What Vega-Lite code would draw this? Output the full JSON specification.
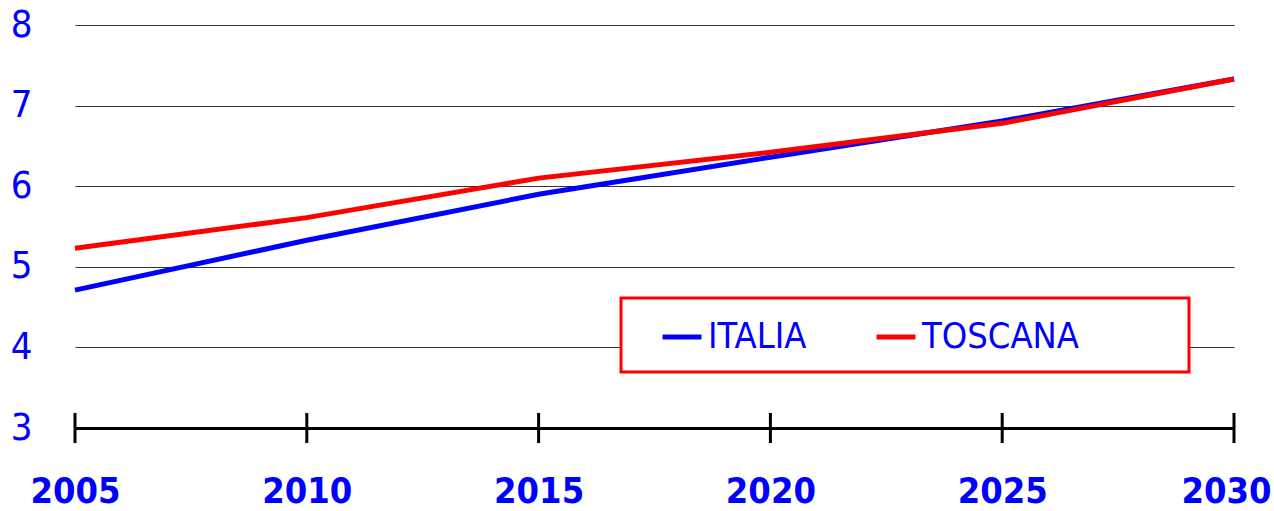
{
  "$schema": "https://vega.github.io/schema/vega-lite/v6.json",
  "width": 1159,
  "height": 403,
  "autosize": {"type": "none"},
  "padding": {"left": 75, "top": 25, "right": 40, "bottom": 83},
  "background": "white",
  "config": {"view": {"stroke": null}, "font": "DejaVu Sans Condensed, Liberation Sans Narrow, sans-serif"},
  "datasets": {
    "serie": [
      {"anno": 2005, "area": "ITALIA", "valore": 4.71},
      {"anno": 2010, "area": "ITALIA", "valore": 5.33},
      {"anno": 2015, "area": "ITALIA", "valore": 5.9},
      {"anno": 2020, "area": "ITALIA", "valore": 6.36},
      {"anno": 2025, "area": "ITALIA", "valore": 6.81},
      {"anno": 2030, "area": "ITALIA", "valore": 7.33},
      {"anno": 2005, "area": "TOSCANA", "valore": 5.23},
      {"anno": 2010, "area": "TOSCANA", "valore": 5.61},
      {"anno": 2015, "area": "TOSCANA", "valore": 6.1},
      {"anno": 2020, "area": "TOSCANA", "valore": 6.42},
      {"anno": 2025, "area": "TOSCANA", "valore": 6.78},
      {"anno": 2030, "area": "TOSCANA", "valore": 7.33}
    ],
    "anni": [
      {"anno": 2005}, {"anno": 2010}, {"anno": 2015},
      {"anno": 2020}, {"anno": 2025}, {"anno": 2030}
    ]
  },
  "layer": [
    {
      "data": {"name": "serie"},
      "mark": {"type": "line", "strokeWidth": 5, "strokeCap": "butt"},
      "encoding": {
        "x": {
          "field": "anno", "type": "quantitative",
          "scale": {"domain": [2005, 2030], "nice": false, "zero": false},
          "axis": {
            "title": null, "values": [2005, 2010, 2015, 2020, 2025, 2030], "format": "d",
            "grid": false, "ticks": false, "domain": true, "domainColor": "#000000", "domainWidth": 3,
            "labelFontSize": 36, "labelFontWeight": "bold", "labelColor": "#0000FF",
            "labelPadding": 46, "labelFlush": false, "labelOverlap": false,
            "labelOffset": {"condition": {"test": "datum.value == 2030", "value": -8}, "value": 0}
          }
        },
        "y": {
          "field": "valore", "type": "quantitative",
          "scale": {"domain": [3, 8], "nice": false, "zero": false},
          "axis": {
            "title": null, "values": [3, 4, 5, 6, 7, 8], "format": "d",
            "grid": true, "gridColor": "#333333", "gridWidth": 1, "ticks": false, "domain": false,
            "labelFontSize": 38, "labelFontWeight": "normal", "labelColor": "#0000FF",
            "labelPadding": 43, "labelFlush": false, "labelOverlap": false
          }
        },
        "color": {
          "field": "area", "type": "nominal",
          "scale": {"domain": ["ITALIA", "TOSCANA"], "range": ["#0000FF", "#FF0000"]},
          "legend": {
            "title": null, "orient": "none", "legendX": 546, "legendY": 273,
            "direction": "horizontal", "padding": 17,
            "strokeColor": "#FF0000", "fillColor": "#FFFFFF",
            "symbolType": "stroke", "symbolSize": 1521, "symbolStrokeWidth": 5,
            "symbolOffset": 22, "labelOffset": 4, "columnPadding": 45,
            "labelFontSize": 36, "labelColor": "#0000FF", "labelLimit": 400,
            "labelExpr": "datum.label == 'TOSCANA' ? datum.label + '\u00a0\u00a0\u00a0\u00a0\u00a0\u00a0\u00a0\u00a0\u00a0\u200b' : datum.label",
            "encode": {"legend": {"update": {"strokeWidth": {"value": 3}}}}
          }
        }
      }
    },
    {
      "data": {"name": "anni"},
      "mark": {"type": "tick", "orient": "vertical", "size": 30, "thickness": 3, "color": "#000000", "opacity": 1},
      "encoding": {
        "x": {"field": "anno", "type": "quantitative"},
        "y": {"datum": 3}
      }
    }
  ]
}
